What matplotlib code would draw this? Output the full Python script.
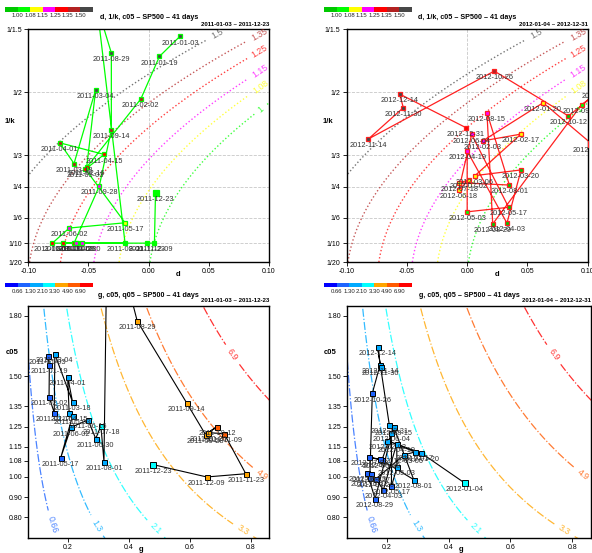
import numpy as np
import matplotlib
matplotlib.use("Agg")
import matplotlib.pyplot as plt
from matplotlib.colors import ListedColormap

plt.rcParams['font.family'] = ['Liberation Sans', 'DejaVu Sans']
plt.rcParams['axes.unicode_minus'] = False

# colour classes
c05_levels = [1.00, 1.08, 1.15, 1.25, 1.35, 1.50]
c05_colors = ['#00c800', '#00ff00', '#ffff00', '#ff00ff', '#ff0000', '#b22222', '#474747']
q05_levels = [0.66, 1.3, 2.1, 3.3, 4.9, 6.9]
q05_colors = ['#0000ff', '#1e64ff', '#00aaff', '#00ffff', '#ffa500', '#ff5a00', '#ff0000']

invk_ticks = [1 / 1.5, 1 / 2, 1 / 3, 1 / 4, 1 / 6, 1 / 10, 1 / 20]
invk_labels = ['1/1.5', '1/2', '1/3', '1/4', '1/6', '1/10', '1/20']
d_ticks = [-0.10, -0.05, 0.00, 0.05, 0.10]
g_ticks = [0.2, 0.4, 0.6, 0.8]
c05_ticks = [0.80, 0.90, 1.00, 1.08, 1.15, 1.25, 1.35, 1.50, 1.80]

# 2011
dates_2011 = ['2011-01-03', '2011-01-19', '2011-02-02', '2011-02-16', '2011-03-04',
              '2011-03-18', '2011-04-01', '2011-04-15', '2011-05-03', '2011-05-17',
              '2011-06-02', '2011-06-16', '2011-06-30', '2011-07-18', '2011-08-01',
              '2011-08-15', '2011-08-29', '2011-09-14', '2011-09-28', '2011-10-12',
              '2011-10-26', '2011-11-09', '2011-11-23', '2011-12-09', '2011-12-23']
d_2011 = [0.026, 0.009, -0.0065, -0.0515, -0.044, -0.062, -0.074, -0.037, -0.0525, -0.0196,
          -0.066, -0.080, -0.055, -0.0715, -0.0196, -0.043, -0.031, -0.031, -0.041, -0.062,
          -0.0595, -0.0605, -0.0015, 0.0048, 0.0057]
invk_2011 = [0.648, 0.595, 0.482, 0.301, 0.507, 0.311, 0.366, 0.335, 0.296, 0.154,
             0.140, 0.100, 0.100, 0.100, 0.100, 0.730, 0.604, 0.401, 0.251, 0.100,
             0.100, 0.100, 0.100, 0.100, 0.234]
g_2011 = [0.134, 0.140, 0.139, 0.156, 0.158, 0.216, 0.200, 0.205, 0.216, 0.177,
          0.211, 0.267, 0.292, 0.309, 0.319, 0.3305, 0.428, 0.590, 0.652, 0.690,
          0.660, 0.713, 0.784, 0.656, 0.481]
c05_2011 = [1.600, 1.555, 1.398, 1.319, 1.609, 1.373, 1.497, 1.316, 1.303, 1.094,
            1.246, 1.283, 1.190, 1.254, 1.076, 2.350, 1.774, 1.368, 1.210, 1.250,
            1.220, 1.215, 1.016, 1.000, 1.061]

# 2012
dates_2012 = ['2012-01-04', '2012-01-20', '2012-02-03', '2012-02-17', '2012-03-06',
              '2012-03-20', '2012-04-03', '2012-04-19', '2012-05-03', '2012-05-17',
              '2012-06-04', '2012-06-18', '2012-07-02', '2012-07-18', '2012-08-01',
              '2012-08-15', '2012-08-29', '2012-09-13', '2012-09-27', '2012-10-12',
              '2012-10-26', '2012-11-14', '2012-11-30', '2012-12-14', '2012-12-31']
d_2012 = [0.103, 0.063, 0.0129, 0.0447, 0.0065, 0.0447, 0.033, 0.0, 0.0, 0.0344,
          0.0037, -0.007, 0.0012, -0.0066, 0.035, 0.0164, 0.0212, 0.095, 0.111, 0.084,
          0.0225, -0.082, -0.053, -0.056, -0.001]
invk_2012 = [0.364, 0.472, 0.371, 0.389, 0.279, 0.294, 0.153, 0.344, 0.183, 0.195,
             0.388, 0.241, 0.267, 0.260, 0.254, 0.446, 0.151, 0.467, 0.506, 0.437,
             0.556, 0.376, 0.459, 0.495, 0.406]
g_2012 = [0.452, 0.311, 0.202, 0.291, 0.257, 0.164, 0.189, 0.232, 0.233, 0.215,
          0.215, 0.184, 0.143, 0.178, 0.287, 0.222, 0.162, 0.137, 0.150, 0.145,
          0.153, 0.178, 0.180, 0.170, 0.208]
c05_2012 = [0.970, 1.119, 1.180, 1.124, 1.110, 0.990, 0.937, 1.165, 1.048, 0.954,
            1.218, 1.083, 1.098, 1.088, 0.987, 1.248, 0.891, 1.020, 1.016, 0.995,
            1.415, 1.555, 1.548, 1.646, 1.259]

highlight = ['2011-12-23', '2012-01-04']


def c05_surface(d, invk):
    return np.exp(1.35 * invk ** 2 - 3.0 * d)


def q05_surface(g, c):
    return 5.8 * g * c


def label_spots(cs, xlim, ylim, backs, top_end=True):
    spots = []
    for segs, back in zip(cs.allsegs, backs):
        best = None
        for s in segs:
            m = (s[:, 0] >= xlim[0]) & (s[:, 0] <= xlim[1]) & (s[:, 1] >= ylim[0]) & (s[:, 1] <= ylim[1])
            s = s[m]
            if best is None or len(s) > len(best):
                best = s
        if best is None or len(best) < 2:
            continue
        if (best[0, 1] > best[-1, 1]) == top_end:
            best = best[::-1]
        nx = (best[:, 0] - xlim[0]) / (xlim[1] - xlim[0])
        ny = (best[:, 1] - ylim[0]) / (ylim[1] - ylim[0])
        dist = np.concatenate([[0], np.cumsum(np.hypot(np.diff(nx), np.diff(ny)))])
        i = np.searchsorted(dist, dist[-1] - back)
        spots.append(tuple(best[min(i, len(best) - 1)]))
    return spots


def style_axes(ax):
    for sp in ax.spines.values():
        sp.set_linewidth(1.0)
    ax.tick_params(labelsize=5, length=3, width=0.6, pad=1.5)


def add_bar(fig, rect, colors, levels):
    cax = fig.add_axes(rect)
    cax.imshow(np.arange(len(colors)).reshape(1, -1), cmap=ListedColormap(colors),
               aspect='auto', extent=(0, len(colors), 0, 1))
    cax.set_xticks(range(1, len(colors)))
    cax.set_xticklabels(['%.2f' % v for v in levels])
    cax.set_yticks([])
    cax.tick_params(length=0, labelsize=4.3, pad=1.2, colors='#222222')
    for sp in cax.spines.values():
        sp.set_visible(False)


def put_labels(ax, xs, ys, dates):
    for x, y, t in zip(xs, ys, dates):
        a = ax.annotate(t, (x, y), xytext=(0, -4.8), textcoords='offset points',
                        ha='center', va='center', fontsize=5.3, color='#333333',
                        annotation_clip=False, zorder=5)
        a.set_clip_path(ax.patch)


def draw_top(ax, dates, d, invk, c05, line_color, period):
    xlim, ylim = (-0.10, 0.10), (0.05, 1 / 1.5)
    D, X = np.meshgrid(np.linspace(-0.11, 0.11, 300), np.linspace(0.04, 0.68, 300))
    cs = ax.contour(D, X, c05_surface(D, X), levels=c05_levels, colors=c05_colors[1:],
                    linestyles=':', linewidths=1.0, alpha=0.75)
    ax.clabel(cs, fmt='%g', fontsize=6.3, inline=True,
              manual=label_spots(cs, xlim, ylim, [0.045] * 6, top_end=True))
    for t in invk_ticks[1:-1]:
        ax.axhline(t, color='#c8c8c8', ls='--', lw=0.6, zorder=0)
    ax.axvline(0.0, color='#c8c8c8', ls='--', lw=0.6, zorder=0)

    ax.plot(d, invk, color=line_color, lw=0.9, zorder=2)
    cls = np.digitize(c05, c05_levels)
    for x, y, k, t in zip(d, invk, cls, dates):
        ms = 4.6 if t in highlight else 3.4
        ax.plot(x, y, 's', ms=ms, mfc=c05_colors[k], mec=line_color, mew=0.9, zorder=3)
    put_labels(ax, d, invk, dates)

    ax.set_xlim(xlim)
    ax.set_ylim(ylim)
    ax.set_xticks(d_ticks)
    ax.set_xticklabels(['%.2f' % v for v in d_ticks])
    ax.set_yticks(invk_ticks)
    ax.set_yticklabels(invk_labels)
    style_axes(ax)
    ax.text(0.5, 1.052, 'd, 1/k, c05 \u2013 SP500 \u2013 41 days', transform=ax.transAxes,
            ha='center', va='center', fontsize=5.1, fontweight='bold')
    ax.text(1.0, 1.022, period, transform=ax.transAxes, ha='right', va='center',
            fontsize=4.4, fontweight='bold')
    ax.text(0.623, -0.052, 'd', transform=ax.transAxes, ha='center', va='center',
            fontsize=5.5, fontweight='bold')
    ax.text(-0.076, 0.603, '1/k', transform=ax.transAxes, ha='center', va='center',
            fontsize=5.5, fontweight='bold')


def draw_bottom(ax, dates, g, c05, period):
    xlim, ylim = (0.071, 0.861), (0.697, 1.85)
    G, C = np.meshgrid(np.linspace(0.05, 0.9, 300), np.linspace(0.65, 1.9, 300))
    cs = ax.contour(G, C, q05_surface(G, C), levels=q05_levels, colors=q05_colors[1:],
                    linestyles='-.', linewidths=0.9, alpha=0.8)
    ax.clabel(cs, fmt='%g', fontsize=6.3, inline=True,
              manual=label_spots(cs, xlim, ylim, [0.06, 0.06, 0.06, 0.06, 0.04, 0.25],
                                 top_end=False))

    ax.plot(g, c05, color='black', lw=0.8, zorder=2)
    q = q05_surface(np.array(g), np.array(c05))
    cls = np.digitize(q, q05_levels)
    for x, y, k, t in zip(g, c05, cls, dates):
        ms = 4.6 if t in highlight else 3.6
        ax.plot(x, y, 's', ms=ms, mfc=q05_colors[k], mec='black', mew=0.7, zorder=3)
    put_labels(ax, g, c05, dates)

    ax.set_xlim(xlim)
    ax.set_ylim(ylim)
    ax.set_xticks(g_ticks)
    ax.set_xticklabels(['%.1f' % v for v in g_ticks])
    ax.set_yticks(c05_ticks)
    ax.set_yticklabels(['%.2f' % v for v in c05_ticks])
    style_axes(ax)
    ax.text(0.5, 1.046, 'g, c05, q05 \u2013 SP500 \u2013 41 days', transform=ax.transAxes,
            ha='center', va='center', fontsize=5.1, fontweight='bold')
    ax.text(1.0, 1.022, period, transform=ax.transAxes, ha='right', va='center',
            fontsize=4.4, fontweight='bold')
    ax.text(0.467, -0.05, 'g', transform=ax.transAxes, ha='center', va='center',
            fontsize=5.5, fontweight='bold')
    ax.text(-0.069, 0.798, 'c05', transform=ax.transAxes, ha='center', va='center',
            fontsize=5.5, fontweight='bold')


fig = plt.figure(figsize=(5.92, 5.53), dpi=100)
ax1 = fig.add_axes([0.0478, 0.5262, 0.4066, 0.4208])
ax2 = fig.add_axes([0.5856, 0.5262, 0.4071, 0.4208])
ax3 = fig.add_axes([0.0478, 0.0271, 0.4071, 0.4201])
ax4 = fig.add_axes([0.5861, 0.0271, 0.4122, 0.4201])

draw_top(ax1, dates_2011, d_2011, invk_2011, c05_2011, '#00ff00', '2011-01-03 \u2013 2011-12-23')
draw_top(ax2, dates_2012, d_2012, invk_2012, c05_2012, '#ff2020', '2012-01-04 \u2013 2012-12-31')
draw_bottom(ax3, dates_2011, g_2011, c05_2011, '2011-01-03 \u2013 2011-12-23')
draw_bottom(ax4, dates_2012, g_2012, c05_2012, '2012-01-04 \u2013 2012-12-31')

add_bar(fig, [0.0084, 0.9788, 0.148, 0.009], c05_colors, c05_levels)
add_bar(fig, [0.5473, 0.9788, 0.148, 0.009], c05_colors, c05_levels)
add_bar(fig, [0.0084, 0.4805, 0.148, 0.0072], q05_colors, q05_levels)
add_bar(fig, [0.5478, 0.4805, 0.148, 0.0072], q05_colors, q05_levels)

fig.savefig('out.png', dpi=100, facecolor='white')
